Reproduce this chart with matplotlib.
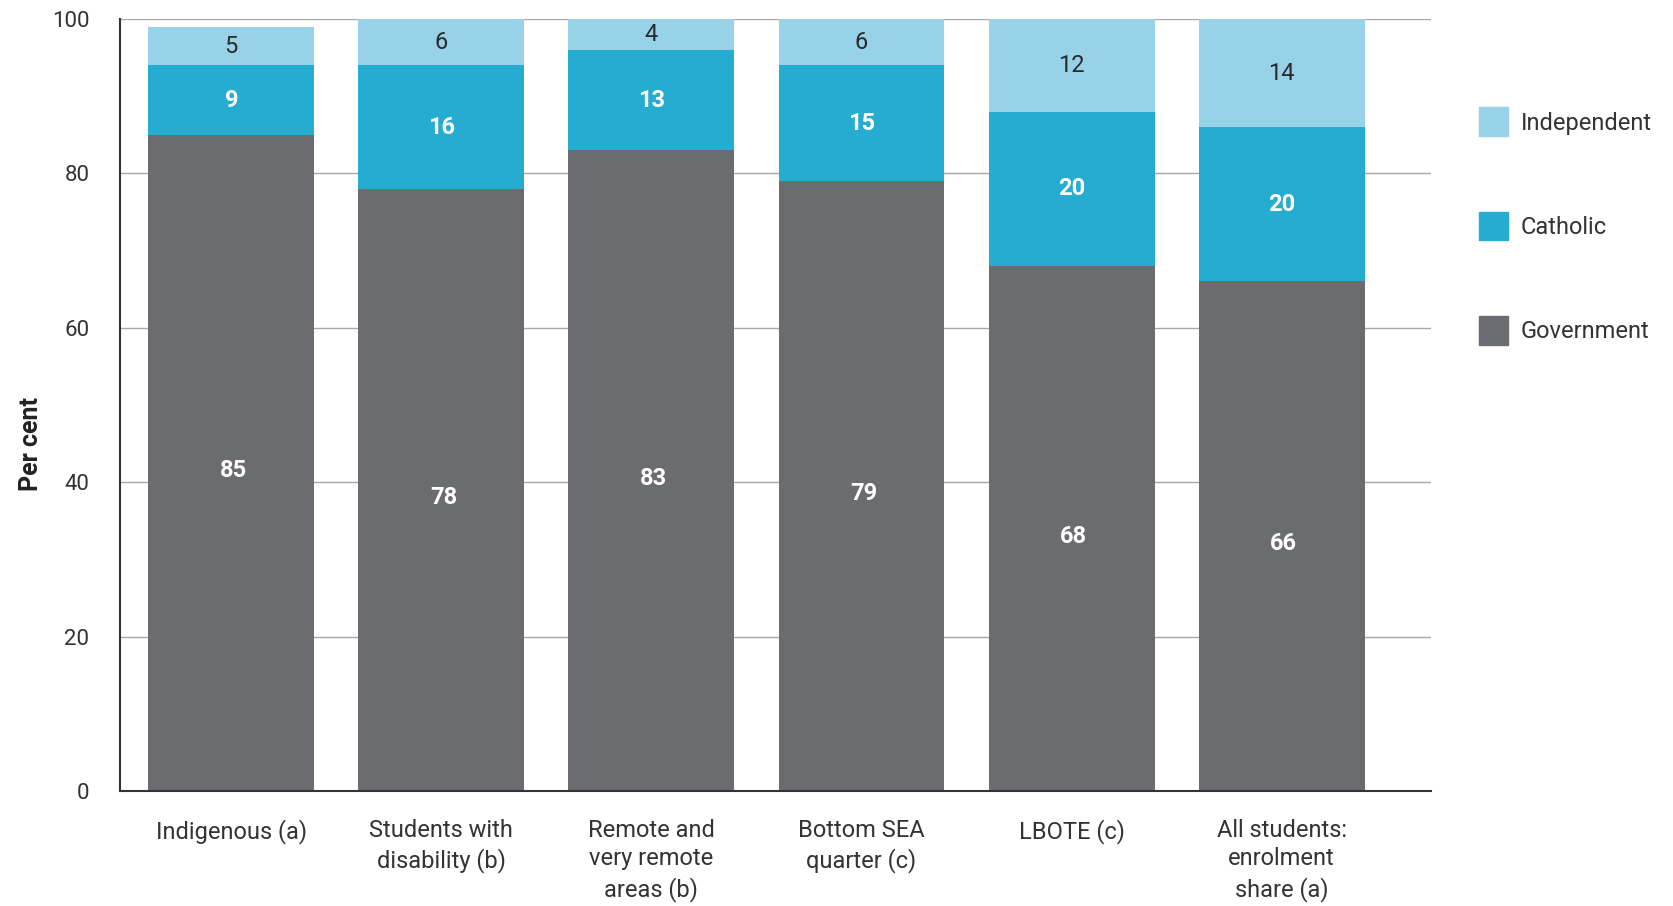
import numpy as np
import matplotlib.pyplot as plt
from matplotlib.patches import Patch

plt.rcParams['font.family'] = ['Roboto', 'DejaVu Sans']

# school sector shares, per cent
categories = ['Indigenous (a)', 'Students with\ndisability (b)', 'Remote and\nvery remote\nareas (b)',
              'Bottom SEA\nquarter (c)', 'LBOTE (c)', 'All students:\nenrolment\nshare (a)']
government = [85, 78, 83, 79, 68, 66]
catholic = [9, 16, 13, 15, 20, 20]
independent = [5, 6, 4, 6, 12, 14]

c_gov = '#6b6c6f'
c_cath = '#25acd0'
c_ind = '#98d2e9'

fig = plt.figure(figsize=(16.74, 9.06), dpi=100)
ax = fig.add_axes([0.0717, 0.127, 0.783, 0.852])

x = np.arange(len(categories))
w = 0.79
gov = np.array(government)
cath = np.array(catholic)
ind = np.array(independent)

ax.bar(x, gov, w, color=c_gov, zorder=2)
ax.bar(x, cath, w, bottom=gov, color=c_cath, zorder=2)
ax.bar(x, ind, w, bottom=gov + cath, color=c_ind, zorder=2)

# segment values, centred in each segment
for i in range(len(x)):
    ax.text(x[i] + 0.01, gov[i] / 2 - 1, str(gov[i]), ha='center', va='center',
            color='white', fontsize=17, fontweight='bold')
    ax.text(x[i], gov[i] + cath[i] / 2, str(cath[i]), ha='center', va='center',
            color='white', fontsize=17, fontweight='bold')
    ax.text(x[i], gov[i] + cath[i] + ind[i] / 2, str(ind[i]), ha='center', va='center',
            color='#2a2a2a', fontsize=17)

ax.set_xlim(-0.53, 5.71)
ax.set_ylim(0, 100)
ax.set_yticks([0, 20, 40, 60, 80, 100])
ax.tick_params(axis='y', length=0, labelsize=16, pad=22, colors='#333333')
ax.tick_params(axis='x', length=0, labelsize=17, pad=20, colors='#333333')
ax.set_xticks(x)
ax.set_xticklabels(categories, linespacing=1.32)
ax.yaxis.grid(True, color='#a8a8a8', linewidth=1.0, zorder=0)
ax.set_axisbelow(True)
for s in ['top', 'right']:
    ax.spines[s].set_visible(False)
ax.spines['left'].set_color('#333333')
ax.spines['bottom'].set_color('#333333')
ax.spines['left'].set_linewidth(1.5)
ax.spines['bottom'].set_linewidth(1.5)
ax.set_ylabel('Per cent', fontsize=18, fontweight='bold', color='#222222')
ax.yaxis.set_label_coords(-0.059, 0.45)

handles = [Patch(color=c_ind, label='Independent'),
           Patch(color=c_cath, label='Catholic'),
           Patch(color=c_gov, label='Government')]
fig.legend(handles=handles, loc='upper left', bbox_to_anchor=(0.871, 0.905),
           frameon=False, fontsize=17, handlelength=1.2, handleheight=1.5,
           labelspacing=3.2, handletextpad=0.55, labelcolor='#333333')

fig.savefig('out.png', dpi=100, facecolor='white')
